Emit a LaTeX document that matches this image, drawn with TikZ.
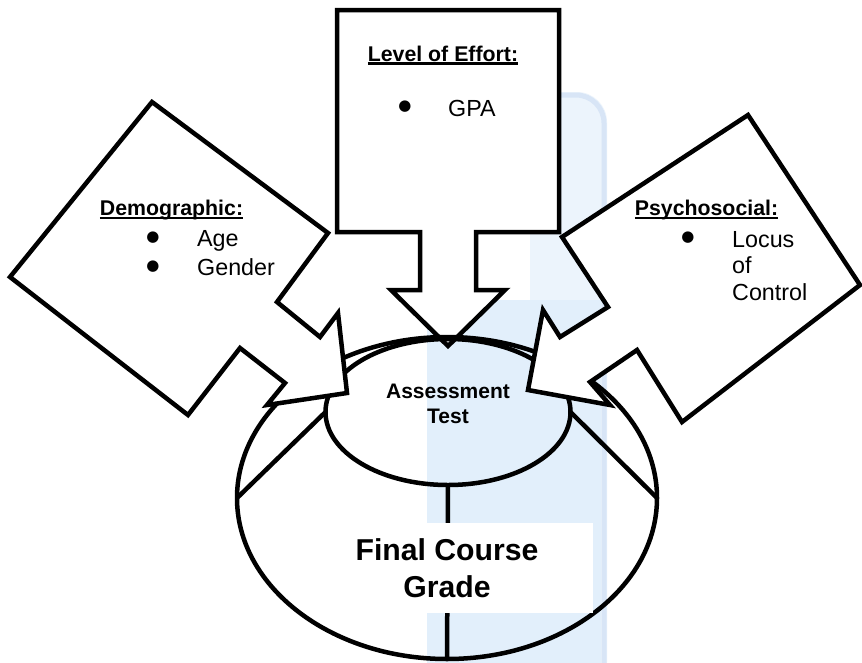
\documentclass[tikz,border=0pt]{standalone}
\usepackage{fontspec}
\setmainfont{Liberation Sans}
\newfontfamily\bulfont{DejaVu Sans}
\usetikzlibrary{shapes.geometric}
\definecolor{wmfill}{RGB}{226,239,251}
\definecolor{wmlight}{RGB}{236,244,252}
\definecolor{wmedge}{RGB}{216,229,246}
\newsavebox\ulbox
\newcommand\ulfx[1]{\sbox\ulbox{#1}\rlap{\usebox\ulbox}\rule[-3.6pt]{\wd\ulbox}{2.3pt}}
\begin{document}
\begin{tikzpicture}[x=1pt,y=-1pt,
  shapeline/.style={draw=black, line width=4.5pt, line join=miter},
  whiteshape/.style={shapeline, fill=white},
  ring/.style={ellipse, draw=black, line width=4.5pt, inner sep=0pt, outer sep=0pt},
  head/.style={font=\bfseries\fontsize{21.3}{25}\selectfont, anchor=base, inner sep=0pt},
  itemtext/.style={font=\fontsize{23.3}{28}\selectfont, anchor=base west, inner sep=0pt},
  bul/.style={font=\bulfont\fontsize{15}{15}\selectfont, anchor=center, inner sep=0pt},
  midtext/.style={font=\bfseries\fontsize{21}{24.5}\selectfont, align=center, inner sep=0pt},
  bigtext/.style={font=\bfseries\fontsize{30.2}{37}\selectfont, align=center, inner sep=0pt},
]
\useasboundingbox (0,0) rectangle (862,662);
\fill[white] (0,0) rectangle (862,662);
% faint watermark
\fill[wmlight, rounded corners=30pt] (530,720) -- (530,92) -- (607,92) -- (607,720) -- cycle;
\draw[wmedge, line width=5pt, rounded corners=28pt] (530,95) -- (604,95) -- (604,720);
\fill[wmfill] (427,300) rectangle (601,720);
% Level of Effort arrow
\draw[whiteshape] (337,10) -- (559,10) -- (559,232) -- (476,232) -- (476,290) -- (505,290)
  -- (448,346) -- (391,290) -- (420,290) -- (420,232) -- (337,232) -- cycle;
% ellipses
\node[ring, minimum width=420pt, minimum height=322pt] (grade) at (447,498) {};
\node[ring, minimum width=245pt, minimum height=146pt] (test) at (448,412) {};
\draw[shapeline] (test.west) -- (grade.west);
\draw[shapeline] (test.east) -- (grade.east);
\draw[shapeline] (test.south) -- (grade.south);
\node[fill=white, minimum width=253pt, minimum height=90pt, inner sep=0pt] (gradebox) at (466.5,568) {};
\node[bigtext] (gradelabel) at (447,568) {Final Course\\Grade};
\node[midtext] (testlabel) at (448,404) {Assessment\\Test};
% Demographic arrow
\draw[whiteshape] (152,102) -- (328,233) -- (277,302) -- (320,337) -- (338,313) -- (347,393)
  -- (267,405) -- (285,383) -- (240,348) -- (188,415) -- (10,277) -- cycle;
% Psychosocial arrow
\draw[whiteshape] (748,115) -- (860,285) -- (682,422) -- (637,350) -- (590,382) -- (610,405)
  -- (528,390) -- (543,310) -- (560,337) -- (608,307) -- (562,237) -- cycle;
% texts
\node[head] (levelhead) at (443,61) {\ulfx{Level of Effort:}};
\node[bul] (levelbul) at (405,107) {●};
\node[itemtext] (levelgpa) at (448,116) {GPA};
\node[head] (demohead) at (171.5,215.5) {\ulfx{Demographic:}};
\node[bul] (demobula) at (153,238) {●};
\node[itemtext] (demoage) at (197,246) {Age};
\node[bul] (demobulb) at (153,267) {●};
\node[itemtext] (demogender) at (197,275) {Gender};
\node[head] (psyhead) at (706.5,215.5) {\ulfx{Psychosocial:}};
\node[bul] (psybul) at (688,238) {●};
\node[itemtext] (psya) at (732,247) {Locus};
\node[itemtext] (psyb) at (732,273.5) {of};
\node[itemtext] (psyc) at (732,300) {Control};
\end{tikzpicture}
\end{document}
